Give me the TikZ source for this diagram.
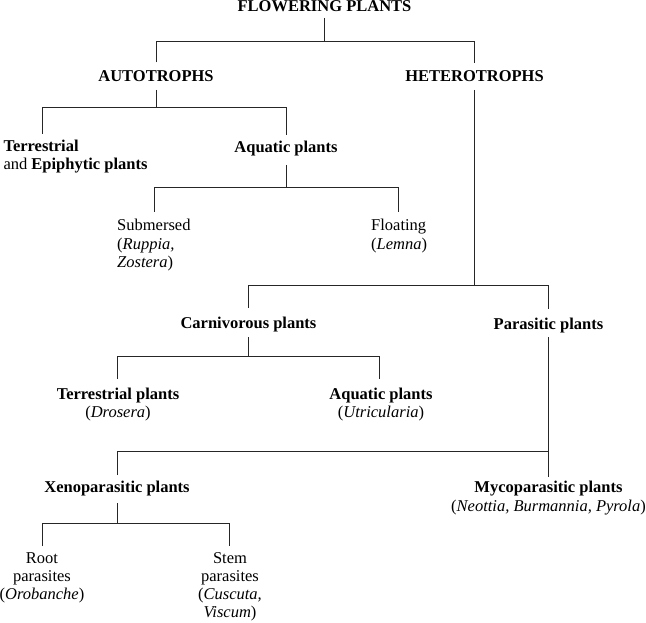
\documentclass[tikz,border=0pt]{standalone}
\usepackage{fontspec}
\setmainfont{Liberation Serif}
\begin{document}
\begin{tikzpicture}[x=1pt,y=-1pt,
  lbl/.style={inner sep=0pt,font=\fontsize{16.5}{18.3}\selectfont},
  hd/.style={lbl,font=\fontsize{16.5}{18.3}\selectfont\bfseries},
  conn/.style={line width=0.9pt,black!85}]
\useasboundingbox (0,0) rectangle (646,623);
\newcommand{\ctab}[1]{\begin{tabular}[t]{@{}c@{}}#1\end{tabular}}
\newcommand{\ltab}[1]{\begin{tabular}[t]{@{}l@{}}#1\end{tabular}}
% nodes
\node[hd,anchor=base] (fp) at (324.5,11.7) {FLOWERING PLANTS};
\node[hd,anchor=base] (auto) at (156,81.5) {AUTOTROPHS};
\node[hd,anchor=base] (het) at (474.5,81.7) {HETEROTROPHS};
\node[lbl,anchor=base west] (terr) at (3.3,151.7) {\ltab{\textbf{Terrestrial}\\and \textbf{Epiphytic plants}}};
\node[hd,anchor=base] (aqua) at (286,152.7) {Aquatic plants};
\node[lbl,anchor=base west] (subm) at (117,231) {\ltab{Submersed\\(\textit{Ruppia,}\\\textit{Zostera})}};
\node[lbl,anchor=base west] (float) at (371,231) {\ltab{Floating\\(\textit{Lemna})}};
\node[hd,anchor=base] (carn) at (248.5,328.5) {Carnivorous plants};
\node[hd,anchor=base] (para) at (548.5,329) {Parasitic plants};
\node[lbl,anchor=base] (terrp) at (118,399) {\ctab{\textbf{Terrestrial plants}\\(\textit{Drosera})}};
\node[lbl,anchor=base] (aquap) at (381,399) {\ctab{\textbf{Aquatic plants}\\(\textit{Utricularia})}};
\node[hd,anchor=base] (xeno) at (117,492.7) {Xenoparasitic plants};
\node[lbl,anchor=base] (myco) at (548.5,492.7) {\ctab{\textbf{Mycoparasitic plants}\\(\textit{Neottia, Burmannia, Pyrola})}};
\node[lbl,anchor=base] (root) at (42,563) {\ctab{Root\\parasites\\(\textit{Orobanche})}};
\node[lbl,anchor=base] (stem) at (230,563) {\ctab{Stem\\parasites\\(\textit{Cuscuta,}\\\textit{Viscum})}};
% top points of the children
\coordinate (autoT) at ([yshift=19pt]auto.base);
\coordinate (hetT) at ([yshift=19pt]het.base);
\coordinate (terrT) at ([xshift=39pt,yshift=17.7pt]terr.base west);
\coordinate (aquaT) at ([yshift=17.7pt]aqua.base);
\coordinate (submT) at ([xshift=37pt,yshift=19.3pt]subm.base west);
\coordinate (floatT) at ([xshift=27.5pt,yshift=19.3pt]float.base west);
\coordinate (carnT) at ([yshift=20.5pt]carn.base);
\coordinate (paraT) at ([yshift=20.5pt]para.base);
\coordinate (terrpT) at ([xshift=-1pt,yshift=20pt]terrp.base);
\coordinate (aquapT) at ([xshift=-2pt,yshift=20pt]aquap.base);
\coordinate (xenoT) at ([yshift=17.7pt]xeno.base);
\coordinate (mycoT) at ([yshift=15.7pt]myco.base);
\coordinate (rootT) at ([yshift=17pt]root.base);
\coordinate (stemT) at ([xshift=-1pt,yshift=17pt]stem.base);
% bus levels
\coordinate (b1) at (0,41.5);
\coordinate (b2) at (0,107);
\coordinate (b3) at (0,187);
\coordinate (b4) at (0,285);
\coordinate (b5) at (0,356);
\coordinate (b6) at (0,451);
\coordinate (b7) at (0,523);
% connectors
\draw[conn] ([yshift=-6.3pt]fp.base) -- (fp.base |- b1);
\draw[conn] (autoT) -- (autoT |- b1) -- (hetT |- b1) -- (hetT);
\draw[conn] ([yshift=-8.5pt]auto.base) -- (auto.base |- b2);
\draw[conn] (terrT) -- (terrT |- b2) -- (aquaT |- b2) -- (aquaT);
\draw[conn] ([yshift=-12.3pt]aqua.base) -- (aqua.base |- b3);
\draw[conn] (submT) -- (submT |- b3) -- (floatT |- b3) -- (floatT);
\draw[conn] ([yshift=-8.3pt]het.base) -- (het.base |- b4);
\draw[conn] (carnT) -- (carnT |- b4) -- (paraT |- b4) -- (paraT);
\draw[conn] ([yshift=-8.5pt]carn.base) -- (carn.base |- b5);
\draw[conn] (terrpT) -- (terrpT |- b5) -- (aquapT |- b5) -- (aquapT);
\draw[conn] ([yshift=-8pt]para.base) -- (mycoT);
\draw[conn] (xenoT) -- (xenoT |- b6) -- (mycoT |- b6);
\draw[conn] ([yshift=-10.3pt]xeno.base) -- (xeno.base |- b7);
\draw[conn] (rootT) -- (rootT |- b7) -- (stemT |- b7) -- (stemT);
\end{tikzpicture}
\end{document}
